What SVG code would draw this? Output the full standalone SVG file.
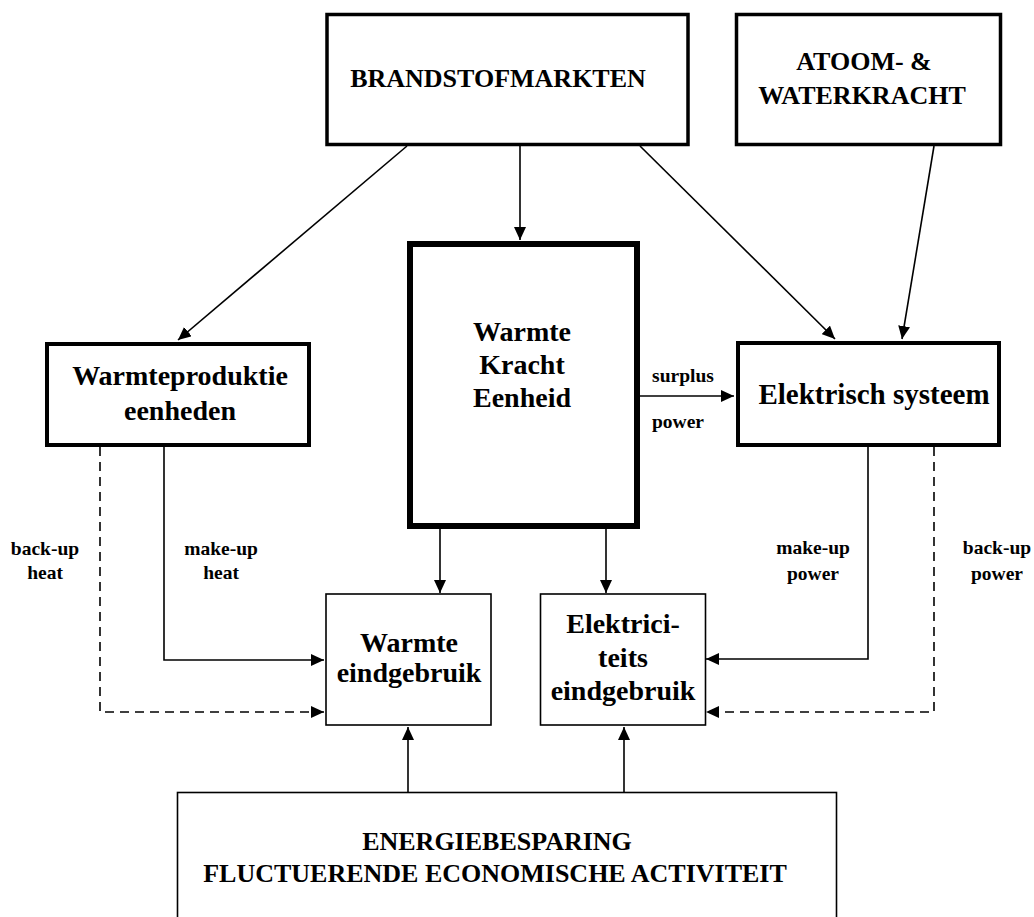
<svg xmlns="http://www.w3.org/2000/svg" width="1034" height="917" viewBox="0 0 1034 917">
<style>
  text { font-family: "Liberation Serif", "Times New Roman", serif; font-weight: bold; fill: #000; text-anchor: middle; }
  .big { font-size: 28px; }
  .caps { font-size: 26px; }
  .small { font-size: 19.5px; }
  .box { fill: #fff; stroke: #000; stroke-linejoin: miter; }
  .conn { fill: none; stroke: #000; stroke-width: 1.6; }
  .dash { stroke-dasharray: 9 6; }
</style>
<defs>
  <marker id="ah" markerUnits="userSpaceOnUse" markerWidth="14" markerHeight="12" refX="13" refY="6" orient="auto">
    <path d="M0,0 L13,6 L0,12 z" fill="#000"/>
  </marker>
</defs>
<rect width="1034" height="917" fill="#fff"/>

<g id="connectors">
  <line class="conn" x1="407" y1="146" x2="178" y2="340" marker-end="url(#ah)"/>
  <line class="conn" x1="520" y1="146" x2="520" y2="240" marker-end="url(#ah)"/>
  <line class="conn" x1="640" y1="146" x2="835" y2="339" marker-end="url(#ah)"/>
  <line class="conn" x1="934" y1="146" x2="902" y2="339" marker-end="url(#ah)"/>
  <line class="conn" x1="639" y1="396" x2="734" y2="396" marker-end="url(#ah)"/>
  <line class="conn" x1="440" y1="528" x2="440" y2="593" marker-end="url(#ah)"/>
  <line class="conn" x1="606" y1="528" x2="606" y2="593" marker-end="url(#ah)"/>
  <path class="conn" d="M164,447 V660 H324" marker-end="url(#ah)"/>
  <path class="conn dash" d="M100,447 V712 H324" marker-end="url(#ah)"/>
  <path class="conn" d="M868,447 V659 H706" marker-end="url(#ah)"/>
  <path class="conn dash" d="M934,447 V712 H706" marker-end="url(#ah)"/>
  <line class="conn" x1="408" y1="792" x2="408" y2="727" marker-end="url(#ah)"/>
  <line class="conn" x1="624" y1="792" x2="624" y2="727" marker-end="url(#ah)"/>
  <text class="small" x="683" y="382">surplus</text>
  <text class="small" x="678" y="428">power</text>
  <text class="small" x="45" y="555">back-up</text>
  <text class="small" x="45" y="579">heat</text>
  <text class="small" x="221" y="555">make-up</text>
  <text class="small" x="221" y="579">heat</text>
  <text class="small" x="813" y="554">make-up</text>
  <text class="small" x="813" y="580">power</text>
  <text class="small" x="997" y="554">back-up</text>
  <text class="small" x="997" y="580">power</text>
</g>

<g id="brandstofmarkten">
  <rect class="box" x="327" y="14.5" width="361" height="130" stroke-width="3.5"/>
  <text class="caps" x="498" y="87">BRANDSTOFMARKTEN</text>
</g>

<g id="atoomwater">
  <rect class="box" x="736.5" y="14.5" width="264" height="130" stroke-width="3.5"/>
  <text class="caps" x="864" y="70">ATOOM- &amp;</text>
  <text class="caps" x="862" y="104">WATERKRACHT</text>
</g>

<g id="warmteproduktie">
  <rect class="box" x="47" y="344" width="262" height="101" stroke-width="4"/>
  <text class="big" x="180" y="385">Warmteproduktie</text>
  <text class="big" x="180" y="420">eenheden</text>
</g>

<g id="wkk">
  <rect class="box" x="410" y="244" width="227" height="282" stroke-width="6"/>
  <text class="big" x="522" y="341">Warmte</text>
  <text class="big" x="522" y="374">Kracht</text>
  <text class="big" x="522" y="407">Eenheid</text>
</g>

<g id="elektrisch">
  <rect class="box" x="738" y="343" width="261" height="102" stroke-width="4"/>
  <text class="big" x="874" y="404" style="font-size:29px">Elektrisch systeem</text>
</g>

<g id="warmte-eind">
  <rect class="box" x="326" y="594" width="165" height="131" stroke-width="1.6"/>
  <text class="big" x="409" y="652">Warmte</text>
  <text class="big" x="409" y="682">eindgebruik</text>
</g>

<g id="elek-eind">
  <rect class="box" x="540.5" y="594" width="165" height="131" stroke-width="1.6"/>
  <text class="big" x="623" y="633">Elektrici-</text>
  <text class="big" x="623" y="667">teits</text>
  <text class="big" x="623" y="700">eindgebruik</text>
</g>

<g id="energiebesparing">
  <rect class="box" x="177.5" y="792.5" width="659" height="140" stroke-width="1.6"/>
  <text class="caps" x="497" y="850">ENERGIEBESPARING</text>
  <text class="caps" x="495" y="882">FLUCTUERENDE ECONOMISCHE ACTIVITEIT</text>
</g>
</svg>
